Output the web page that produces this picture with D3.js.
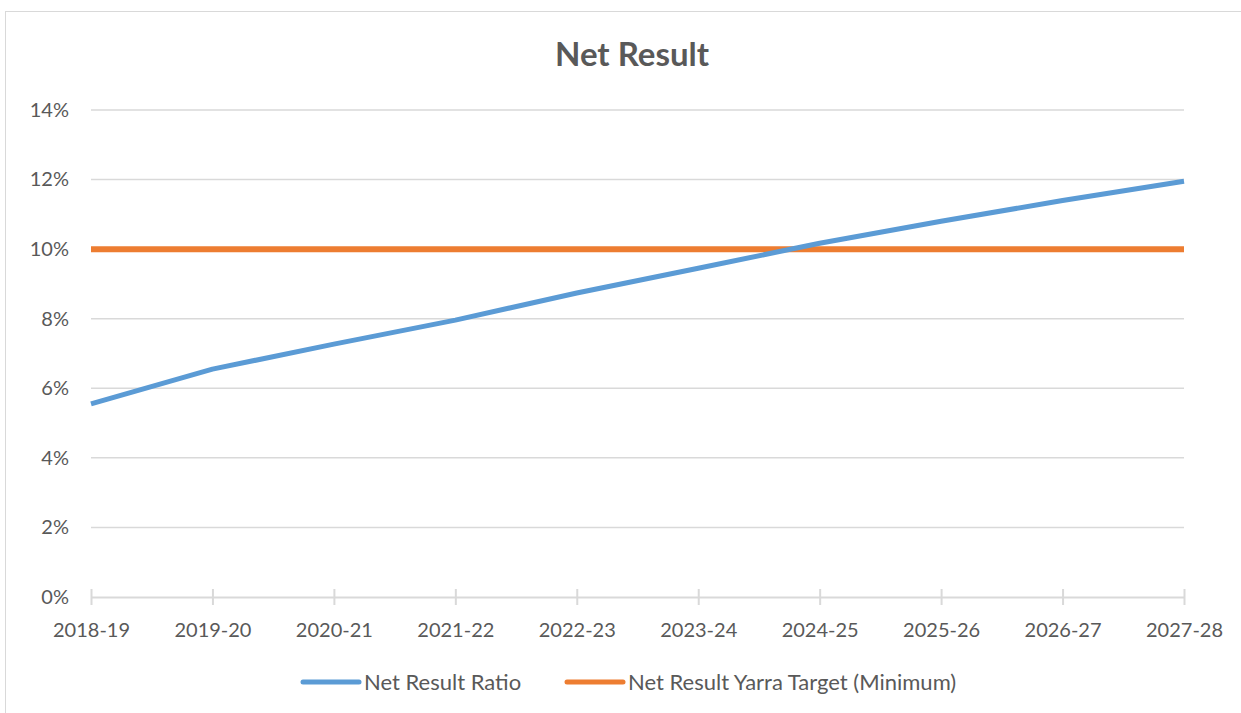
<!DOCTYPE html>
<html>
<head>
<meta charset="utf-8">
<script src="https://cdn.jsdelivr.net/npm/d3@7"></script>
<style>
  body { margin: 0; background: #fff; }
  text { font-family: Lato, "Open Sans", sans-serif; fill: #595959; }
</style>
</head>
<body>
<div id="chart"></div>
<script>
// data
const years = ["2018-19", "2019-20", "2020-21", "2021-22", "2022-23",
               "2023-24", "2024-25", "2025-26", "2026-27", "2027-28"];
const ratio = [5.55, 6.55, 7.27, 7.96, 8.74, 9.45, 10.17, 10.8, 11.4, 11.95];
const target = [10, 10, 10, 10, 10, 10, 10, 10, 10, 10];
const yTicks = [0, 2, 4, 6, 8, 10, 12, 14];
const seriesNames = ["Net Result Ratio", "Net Result Yarra Target (Minimum)"];
const colors = ["#5B9BD5", "#ED7D31"];

const width = 1241;
const height = 713;
const margin = { left: 91, right: 57, top: 110, bottom: 116 };

const svg = d3.select("#chart")
    .append("svg")
    .attr("width", width)
    .attr("height", height);

// cadre du graphique
svg.append("rect")
    .attr("x", 5.5).attr("y", 11.5)
    .attr("width", width).attr("height", height)
    .attr("fill", "none")
    .attr("stroke", "#D9D9D9");

const x = d3.scalePoint()
    .domain(years)
    .range([margin.left, width - margin.right]);

const y = d3.scaleLinear()
    .domain([0, 14])
    .range([height - margin.bottom, margin.top]);

// gridlines
svg.append("g")
    .selectAll("line")
    .data(yTicks.filter(d => d > 0))
    .enter()
    .append("line")
    .attr("x1", margin.left)
    .attr("x2", width - margin.right)
    .attr("y1", d => y(d))
    .attr("y2", d => y(d))
    .attr("stroke", "#D9D9D9")
    .attr("stroke-width", 1.5);

// y axis labels
const yAxis = svg.append("g")
    .attr("transform", `translate(${margin.left - 22},0)`)
    .call(d3.axisLeft(y).tickValues(yTicks).tickSize(0).tickFormat(d => d + "%"));
yAxis.select(".domain").remove();
yAxis.selectAll("text")
    .attr("x", 0)
    .style("font-size", "20px")
    .style("font-family", "Lato, sans-serif")
    .attr("fill", "#595959");

// x axis
const xAxis = svg.append("g")
    .attr("transform", `translate(0,${y(0)})`)
    .call(d3.axisBottom(x).tickSize(8).tickSizeOuter(0));
xAxis.select(".domain").attr("stroke", "#D9D9D9").attr("stroke-width", 2);
xAxis.selectAll(".tick line")
    .attr("y1", -8)
    .attr("y2", 8)
    .attr("stroke", "#D9D9D9")
    .attr("stroke-width", 2);
xAxis.selectAll("text")
    .attr("y", 26)
    .style("font-size", "20px")
    .style("font-family", "Lato, sans-serif")
    .attr("fill", "#595959");

// lines
const line = d3.line()
    .x((d, i) => x(years[i]))
    .y(d => y(d));

svg.append("path")
    .datum(target)
    .attr("d", line)
    .attr("fill", "none")
    .attr("stroke", colors[1])
    .attr("stroke-width", 6);

svg.append("path")
    .datum(ratio)
    .attr("d", line)
    .attr("fill", "none")
    .attr("stroke", colors[0])
    .attr("stroke-width", 5)
    .attr("stroke-linejoin", "round");

// title
svg.append("text")
    .attr("x", 632)
    .attr("y", 66)
    .attr("text-anchor", "middle")
    .style("font-size", "33px")
    .style("font-weight", "bold")
    .text("Net Result");

// legend
const legendX = [303, 567];
const legend = svg.selectAll(".legend")
    .data(seriesNames)
    .enter()
    .append("g")
    .attr("class", "legend")
    .attr("transform", (d, i) => `translate(${legendX[i]},682)`);

legend.append("line")
    .attr("x1", 0).attr("x2", 56)
    .attr("stroke", (d, i) => colors[i])
    .attr("stroke-width", 5)
    .attr("stroke-linecap", "round");

legend.append("text")
    .attr("x", 61)
    .attr("y", 8)
    .style("font-size", "22px")
    .text(d => d);
</script>
</body>
</html>
